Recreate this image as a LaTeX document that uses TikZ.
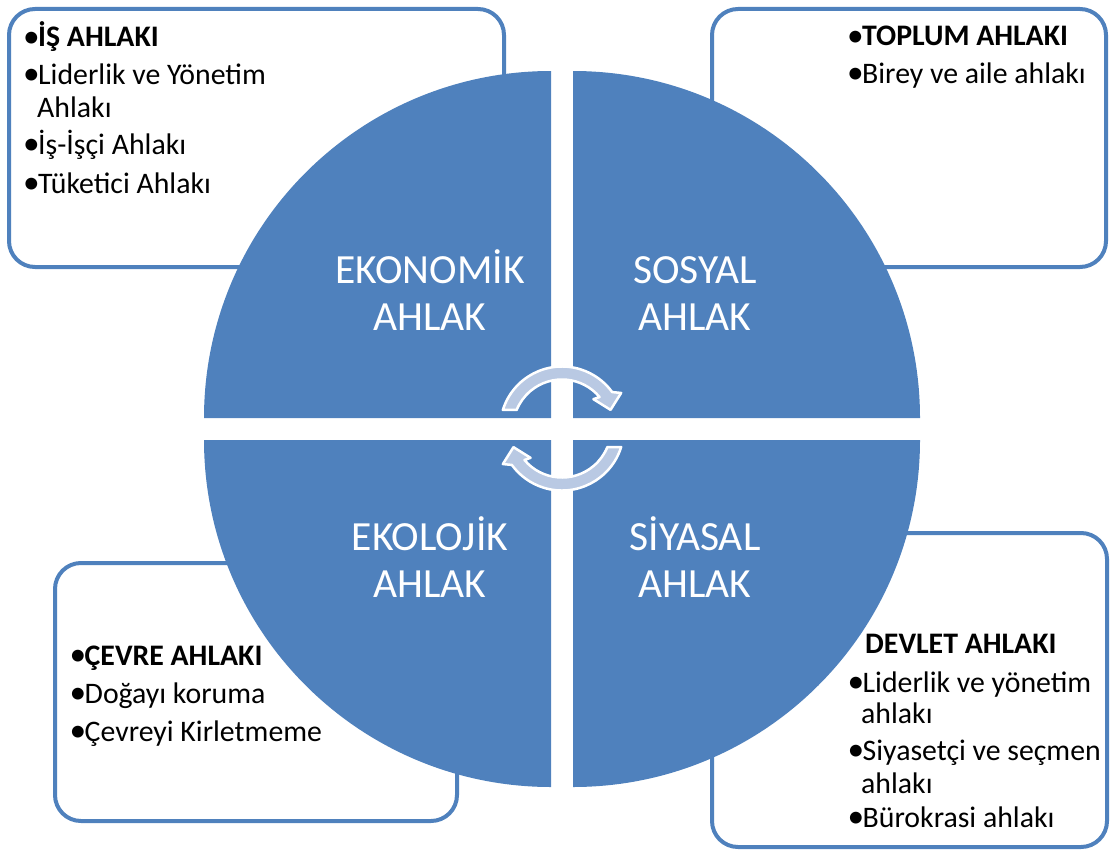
\documentclass[tikz,border=0pt]{standalone}
\usepackage{fontspec}
\usepackage{graphicx}
\setmainfont{Carlito}
\definecolor{qblue}{RGB}{79,129,189}
\definecolor{arrowfill}{RGB}{185,201,227}
\newcommand{\bul}{\makebox[15pt][l]{\raisebox{-0.9pt}{\scalebox{1.12}{•}}}}
\begin{document}
\begin{tikzpicture}[x=1pt,y=1pt,
  infobox/.style={draw=qblue, line width=4pt, fill=white, rounded corners=26pt},
  quad/.style={fill=qblue},
  item/.style={anchor=base west, inner sep=0pt, font=\fontsize{29.8}{34}\selectfont, text=black},
  qlabel/.style={anchor=base, inner sep=0pt, font=\fontsize{41.5}{48}\selectfont, text=white},
  cyc/.style={fill=arrowfill, draw=white, line width=2.5pt, line join=round}]
\useasboundingbox (0,0) rectangle (1110,-851);
% boxes
\draw[infobox] (9,-9) rectangle (504,-267);
\draw[infobox] (712,-9) rectangle (1106,-267);
\draw[infobox] (55,-563) rectangle (457,-821);
\draw[infobox] (712,-533) rectangle (1107,-847);
% box texts
\node[item] (a1) at (23,-47) {\bul\textbf{İŞ AHLAKI}};
\node[item] (a2) at (23,-84) {\bul Liderlik ve Yönetim};
\node[item] (a3) at (37,-117) {Ahlakı};
\node[item] (a4) at (23,-154) {\bul İş-İşçi Ahlakı};
\node[item] (a5) at (23,-193) {\bul Tüketici Ahlakı};
\node[item] (b1) at (847,-46) {\bul\textbf{TOPLUM AHLAKI}};
\node[item] (b2) at (847,-83) {\bul Birey ve aile ahlakı};
\node[item] (c1) at (69.5,-665) {\bul\textbf{ÇEVRE AHLAKI}};
\node[item] (c2) at (69.5,-703) {\bul Doğayı koruma};
\node[item] (c3) at (69.5,-741) {\bul Çevreyi Kirletmeme};
\node[item] (d0) at (836,-653) {\bul};
\node[item] (d1) at (865,-653) {\textbf{DEVLET AHLAKI}};
\node[item] (d2) at (847.5,-692) {\bul Liderlik ve yönetim};
\node[item] (d3) at (861,-723) {ahlakı};
\node[item] (d4) at (847.5,-760) {\bul Siyasetçi ve seçmen};
\node[item] (d5) at (861,-793) {ahlakı};
\node[item] (d6) at (847.5,-827) {\bul Bürokrasi ahlakı};
% quadrants
\fill[quad] (551,-418) -- (204,-418) arc[start angle=180,end angle=90,radius=347] -- cycle;
\fill[quad] (573,-418) -- (573,-71) arc[start angle=90,end angle=0,radius=347] -- cycle;
\fill[quad] (551,-440) -- (551,-787) arc[start angle=270,end angle=180,radius=347] -- cycle;
\fill[quad] (573,-440) -- (920,-440) arc[start angle=0,end angle=-90,radius=347] -- cycle;
% labels
\node[qlabel] (q1a) at (430,-283) {EKONOMİK};
\node[qlabel] (q1b) at (430,-330) {AHLAK};
\node[qlabel] (q2a) at (695,-283) {SOSYAL};
\node[qlabel] (q2b) at (695,-330) {AHLAK};
\node[qlabel] (q3a) at (430,-550) {EKOLOJİK};
\node[qlabel] (q3b) at (430,-597) {AHLAK};
\node[qlabel] (q4a) at (695,-550) {SİYASAL};
\node[qlabel] (q4b) at (695,-597) {AHLAK};
% cycle arrows
\begin{scope}[shift={(562,-428.5)}]
\draw[cyc] (162.6:62) arc[start angle=162.6,end angle=36,radius=62] -- (31:69) -- (21:52) -- (43:43) -- (40:49) arc[start angle=40,end angle=157.8,radius=49] -- cycle;
\draw[cyc, rotate=180] (162.6:62) arc[start angle=162.6,end angle=36,radius=62] -- (31:69) -- (21:52) -- (43:43) -- (40:49) arc[start angle=40,end angle=157.8,radius=49] -- cycle;
\end{scope}
\end{tikzpicture}
\end{document}
